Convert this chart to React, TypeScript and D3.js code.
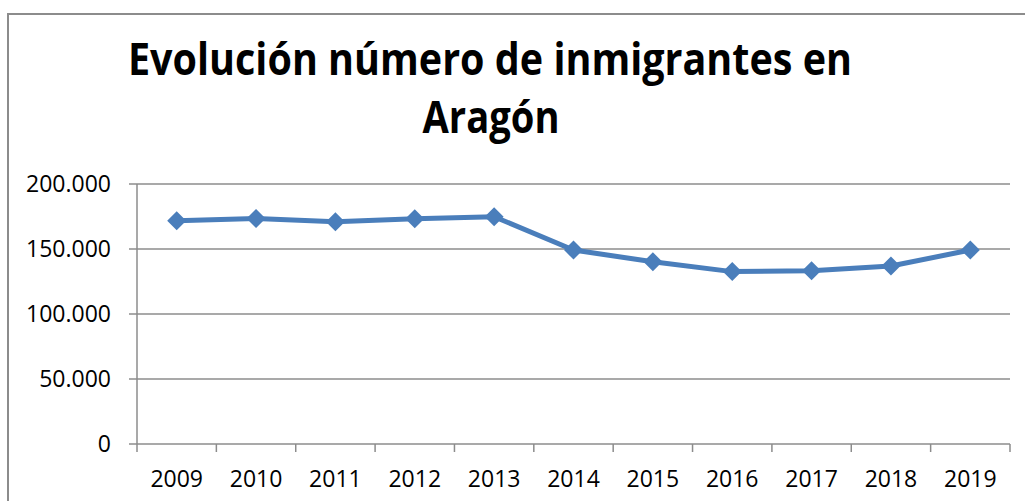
import React, { useEffect, useRef } from "react";
import * as d3 from "d3";

const years = ["2009", "2010", "2011", "2012", "2013", "2014", "2015", "2016", "2017", "2018", "2019"];
const inmigrantes = [171800, 173500, 171000, 173300, 174800, 149200, 140200, 132600, 133300, 136900, 149200];
const yTicks = [0, 50000, 100000, 150000, 200000];
const titleLines = ["Evolución número de inmigrantes en", "Aragón"];

function App() {
    const ref = useRef<SVGSVGElement>(null);
    const width = 1025;
    const height = 501;
    const plot = { left: 137, right: 1010, top: 184, bottom: 444 };
    const font = "'Open Sans', 'Liberation Sans', Arial, sans-serif";

    useEffect(() => {
        const svg = d3.select(ref.current);
        svg.selectAll("*").remove();

        // chart frame (cropped on the right and bottom)
        svg.append("path")
            .attr("d", `M8,${height + 5}V14H${width + 5}`)
            .attr("fill", "none")
            .attr("stroke", "#8c8c8c")
            .attr("stroke-width", 2);

        const x = d3.scaleBand().domain(years).range([plot.left, plot.right]);
        const y = d3.scaleLinear().domain([0, 200000]).range([plot.bottom, plot.top]);

        const fmt = (v: number) => (v === 0 ? "0" : d3.format(",")(v).replace(/,/g, "."));

        // gridlines + y ticks
        svg.append("g")
            .selectAll("line")
            .data(yTicks)
            .enter()
            .append("line")
            .attr("x1", plot.left - 8)
            .attr("x2", plot.right)
            .attr("y1", (d) => y(d))
            .attr("y2", (d) => y(d))
            .attr("stroke", "#8c8c8c")
            .attr("stroke-width", 1.5);

        svg.append("g")
            .selectAll("text")
            .data(yTicks)
            .enter()
            .append("text")
            .attr("x", 111)
            .attr("y", (d) => y(d) + 8)
            .attr("text-anchor", "end")
            .style("font-family", font)
            .style("font-size", "23px")
            .style("fill", "#000")
            .text(fmt);

        // y axis line
        svg.append("line")
            .attr("x1", plot.left)
            .attr("x2", plot.left)
            .attr("y1", plot.top)
            .attr("y2", plot.bottom)
            .attr("stroke", "#8c8c8c")
            .attr("stroke-width", 1.5);

        // x ticks between categories
        const tickX = years.map((d) => x(d) as number).concat([plot.right]);
        svg.append("g")
            .selectAll("line")
            .data(tickX)
            .enter()
            .append("line")
            .attr("x1", (d) => d)
            .attr("x2", (d) => d)
            .attr("y1", plot.bottom)
            .attr("y2", plot.bottom + 8)
            .attr("stroke", "#8c8c8c")
            .attr("stroke-width", 1.5);

        svg.append("g")
            .selectAll("text")
            .data(years)
            .enter()
            .append("text")
            .attr("x", (d) => (x(d) as number) + x.bandwidth() / 2)
            .attr("y", 487)
            .attr("text-anchor", "middle")
            .style("font-family", font)
            .style("font-size", "23px")
            .style("fill", "#000")
            .text((d) => d);

        // series
        const cx = (i: number) => (x(years[i]) as number) + x.bandwidth() / 2;
        const line = d3.line<number>()
            .x((_, i) => cx(i))
            .y((d) => y(d));

        svg.append("path")
            .datum(inmigrantes)
            .attr("d", line)
            .attr("fill", "none")
            .attr("stroke", "#4a7ebb")
            .attr("stroke-width", 5)
            .attr("stroke-linejoin", "round");

        const r = 9.5;
        svg.append("g")
            .selectAll("path")
            .data(inmigrantes)
            .enter()
            .append("path")
            .attr("d", (d, i) => `M${cx(i)},${y(d) - r}L${cx(i) + r},${y(d)}L${cx(i)},${y(d) + r}L${cx(i) - r},${y(d)}Z`)
            .attr("fill", "#4a7ebb");

        // title
        const title = svg.append("g")
            .style("font-family", font)
            .style("font-weight", "bold")
            .style("font-size", "44px")
            .style("fill", "#000");
        title.append("text")
            .attr("x", 490)
            .attr("y", 75)
            .attr("text-anchor", "middle")
            .attr("textLength", 724)
            .attr("lengthAdjust", "spacingAndGlyphs")
            .text(titleLines[0]);
        title.append("text")
            .attr("x", 491)
            .attr("y", 133)
            .attr("text-anchor", "middle")
            .attr("textLength", 137)
            .attr("lengthAdjust", "spacingAndGlyphs")
            .text(titleLines[1]);
    }, []);

    return (
        <svg
            ref={ref}
            width={width}
            height={height}
            style={{ position: "absolute", left: 0, top: 0, background: "#fff" }}
        />
    );
}

export default App;
